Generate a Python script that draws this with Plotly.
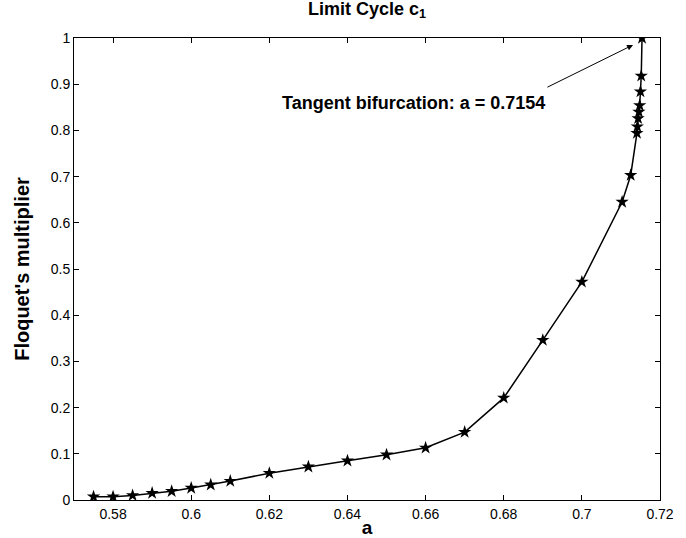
import plotly.graph_objects as go

a_vals = [0.575, 0.58, 0.585, 0.59, 0.595, 0.60, 0.605, 0.61, 0.62, 0.63, 0.64,
          0.65, 0.66, 0.67, 0.68, 0.69, 0.70, 0.7103, 0.7125,
          0.7141, 0.7142, 0.7144, 0.7146, 0.7148, 0.7150, 0.7152, 0.7154]
mult = [0.007, 0.007, 0.010, 0.015, 0.019, 0.026, 0.033, 0.041, 0.058, 0.072, 0.085,
        0.098, 0.113, 0.147, 0.221, 0.346, 0.472, 0.645, 0.703,
        0.794, 0.808, 0.826, 0.840, 0.854, 0.884, 0.918, 1.0]

x_ticks = [0.58, 0.60, 0.62, 0.64, 0.66, 0.68, 0.70, 0.72]
x_tick_text = ["0.58", "0.6", "0.62", "0.64", "0.66", "0.68", "0.7", "0.72"]
y_ticks = [0, 0.1, 0.2, 0.3, 0.4, 0.5, 0.6, 0.7, 0.8, 0.9, 1.0]
y_tick_text = ["0", "0.1", "0.2", "0.3", "0.4", "0.5", "0.6", "0.7", "0.8", "0.9", "1"]

font_family = "Liberation Sans, Arial, sans-serif"

fig = go.Figure()
fig.add_trace(go.Scatter(
    x=a_vals, y=mult, mode="lines+markers",
    line=dict(color="black", width=1.5),
    marker=dict(symbol="star", size=10, color="black"),
    showlegend=False,
))

axis_common = dict(
    showgrid=False, zeroline=False, showline=True, linecolor="black", linewidth=1,
    mirror="ticks", ticks="inside", ticklen=5, tickcolor="black", automargin=False,
    tickfont=dict(family=font_family, size=14, color="black"),
)

fig.update_xaxes(range=[0.57, 0.72], tickvals=x_ticks, ticktext=x_tick_text,
                 ticklabelstandoff=1,
                 title=dict(text="<b>a</b>", font=dict(family=font_family, size=19, color="black")),
                 **axis_common)
fig.update_yaxes(range=[0, 1], tickvals=y_ticks, ticktext=y_tick_text,
                 title=dict(text="<b>Floquet's multiplier</b>",
                            font=dict(family=font_family, size=20, color="black")),
                 **axis_common)

fig.add_annotation(x=0.7131, y=0.985, ax=0.6908, ay=0.892, xref="x", yref="y",
                   axref="x", ayref="y", text="", showarrow=True,
                   arrowhead=2, arrowsize=1.2, arrowwidth=1, arrowcolor="black")
fig.add_annotation(x=0.657, y=0.859, xref="x", yref="y", showarrow=False,
                   text="<b>Tangent bifurcation: a = 0.7154</b>",
                   font=dict(family=font_family, size=18, color="black"))

fig.update_layout(
    width=686, height=538,
    margin=dict(l=74, r=26, t=38, b=38),
    paper_bgcolor="white", plot_bgcolor="white",
    title=dict(text="<b>Limit Cycle c<sub>1</sub></b>", x=0.5, xanchor="center",
               xref="paper", y=1, yref="container", yanchor="top", pad=dict(t=2),
               font=dict(family=font_family, size=18, color="black")),
)

fig.write_html("out.html")
